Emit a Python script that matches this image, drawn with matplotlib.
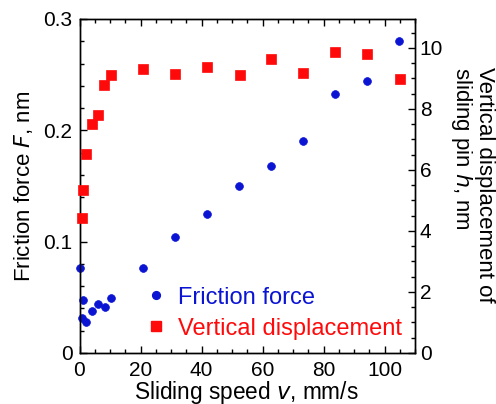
import matplotlib
matplotlib.use("Agg")
import matplotlib.pyplot as plt
from matplotlib.ticker import MultipleLocator
from matplotlib.lines import Line2D

plt.rcParams['font.family'] = ['Liberation Sans', 'DejaVu Sans']

# Friction force (left axis)
v_friction = [0.0, 1.25, 0.8, 2.0, 4.1, 6.2, 8.3, 10.2, 20.8, 31.3, 41.8, 52.3, 62.9, 73.3, 83.8, 94.2, 104.8]
friction = [0.0766, 0.0476, 0.0317, 0.0281, 0.0375, 0.044, 0.0416, 0.0494, 0.0761, 0.104, 0.125, 0.150, 0.1677, 0.190, 0.233, 0.2447, 0.280]

# Vertical displacement (right axis)
v_disp = [0.9, 1.25, 2.1, 4.1, 6.2, 8.1, 10.2, 20.8, 31.3, 41.8, 52.5, 62.9, 73.3, 83.8, 94.2, 105.0]
disp = [4.42, 5.35, 6.53, 7.51, 7.81, 8.80, 9.12, 9.30, 9.15, 9.39, 9.10, 9.63, 9.18, 9.86, 9.79, 8.99]

blue = '#0a14d2'
red = '#ff0a0a'
fs = 16
lfs = 17
tfs = 15
ms_c = 5.6
ms_s = 6.5

W, H = 496, 404
fig = plt.figure(figsize=(W / 100, H / 100), dpi=100)
ax = fig.add_axes([79.5 / W, 1 - 353 / H, (415 - 79.5) / W, (353 - 19) / H])
ax2 = ax.twinx()

ax.plot(v_friction, friction, 'o', color=blue, ms=ms_c, mec=blue, mew=0.5, zorder=3, clip_on=False)
ax2.plot(v_disp, disp, 's', color=red, ms=ms_s, mec=red, mew=0.5, zorder=3, clip_on=False)

ax.set_xlim(0, 110)
ax.set_ylim(0, 0.3)
ax2.set_ylim(0, 10.95)

ax.xaxis.set_major_locator(MultipleLocator(20))
ax.xaxis.set_minor_locator(MultipleLocator(5))
ax.yaxis.set_minor_locator(MultipleLocator(0.02))
ax2.yaxis.set_major_locator(MultipleLocator(2))
ax2.yaxis.set_minor_locator(MultipleLocator(0.5))

ax.set_yticks([0, 0.1, 0.2, 0.3])
ax.set_yticklabels(['0', '0.1', '0.2', '0.3'])

for a in (ax, ax2):
    for s in a.spines.values():
        s.set_linewidth(1.0)
ax.tick_params(axis='x', which='both', direction='in', top=True, bottom=True, labelsize=tfs, pad=5.5)
ax.tick_params(axis='y', which='both', direction='in', left=True, right=False, labelsize=tfs, pad=5)
ax2.tick_params(axis='y', which='both', direction='in', right=True, left=False, labelsize=tfs, pad=3.5)
for a in (ax, ax2):
    a.tick_params(which='major', length=5, width=1)
    a.tick_params(which='minor', length=3, width=1)

fig.text(246 / W, 5.5 / H, 'Sliding speed $\\it{v}$, mm/s', fontsize=16.3, ha='center', va='baseline')
fig.text(24 / W, 1 - 186 / H, 'Friction force $\\it{F}$, nm', fontsize=fs, rotation=90,
         ha='center', va='center')
fig.text(472 / W, 1 - 67 / H, 'Vertical displacement of\nsliding pin $\\it{h}$, nm', fontsize=fs,
         rotation=-90, ha='center', va='top', multialignment='left', linespacing=1.05)

handles = [Line2D([], [], marker='o', ls='', color=blue, ms=ms_c),
           Line2D([], [], marker='s', ls='', color=red, ms=ms_s)]
leg = ax.legend(handles, ['Friction force', 'Vertical displacement'], loc='lower left',
                bbox_to_anchor=(0.167, 0.012), frameon=False, fontsize=lfs,
                handletextpad=0.43, handlelength=0.95, labelspacing=0.38,
                labelcolor=[blue, red], borderaxespad=0)

fig.savefig('out.png', dpi=100)
